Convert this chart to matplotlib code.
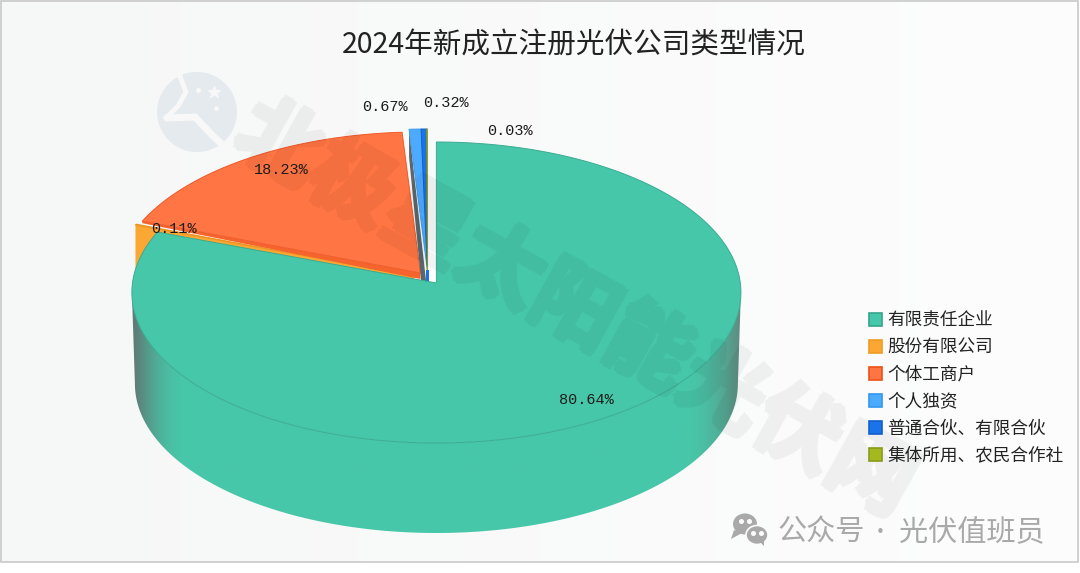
import numpy as np
import matplotlib
matplotlib.use("Agg")
import matplotlib.pyplot as plt
from matplotlib.patches import Polygon, Rectangle, Circle, Ellipse
from matplotlib.colors import to_rgb

plt.rcParams['font.family'] = ['Noto Sans CJK SC', 'DejaVu Sans']

title = "2024年新成立注册光伏公司类型情况"
categories = ["有限责任企业", "股份有限公司", "个体工商户", "个人独资", "普通合伙、有限合伙", "集体所用、农民合作社"]
values = [80.64, 0.11, 18.23, 0.67, 0.32, 0.03]
colors = ["#47c7a9", "#fba733", "#ff7543", "#4dabff", "#1a73e8", "#a4b81f"]
edges = ["#3bab91", "#ef9420", "#f0592a", "#3f9cf0", "#1360c8", "#8ea015"]
legend_edges = ["#34a58b", "#f09a22", "#ee5019", "#2f97f0", "#1160cc", "#8a9c18"]

# placement of each value label (pixels)
label_pos = [(586, 400), (174, 229), (281, 170), (385, 107), (446, 103), (510, 131)]
# how far each slice is pulled out from the shared centre (pixels)
slice_shift = [(0, 0), (-22, -7), (-16, -10), (-9, -13), (-9, -13), (-9, -13)]

CX, CY = 436.4, 283.0
AX, AY, K = 303.9, 149.9, 0.0631
DEPTH, SHRINK = 91.6, 0.99


def rim(deg, shift=(0, 0)):
    t = np.radians(deg)
    u, v = np.sin(t), -np.cos(t)
    d = 1 - K * v
    return CX + shift[0] + AX * u / d, CY + shift[1] + AY * v / d


def low(deg):
    x, y = rim(deg)
    return CX + (x - CX) * SHRINK, CY + (y - CY) * SHRINK + DEPTH


def heavy_faint(img, dpi):
    """Fatten the glyphs and make them faint as one layer."""
    pad = 4
    a = np.pad(img[..., 3], pad)
    out = a.copy()
    for dx, dy in [(-1, 0), (1, 0), (0, -1), (0, 1), (-2, 0), (2, 0), (0, -2), (0, 2),
                   (-1, -1), (1, 1), (-1, 1), (1, -1), (-3, 0), (3, 0), (0, 3), (0, -3)]:
        out = np.maximum(out, np.roll(np.roll(a, dx, 1), dy, 0))
    res = np.zeros(out.shape + (4,), dtype=img.dtype)
    res[..., 3] = out * 0.05
    return res, -pad, -pad


fig = plt.figure(figsize=(10.8, 5.73), dpi=100)
ax = fig.add_axes([0, 0, 1, 1])

# background
c0, c1 = np.array(to_rgb("#f6f7f7")), np.array(to_rgb("#fdfdfd"))
grad = np.linspace(0, 1, 256)[None, :, None] * (c1 - c0) + c0
ax.imshow(grad, extent=(0, 1080, 562, 0), aspect='auto', zorder=0)
ax.add_patch(Rectangle((1, 1), 1077, 561, fc='none', ec='#c9c9c9', lw=1.2, zorder=1))

# logo of the watermark
ax.add_patch(Circle((197, 112), 40, fc='#e5eaee', ec='none', zorder=1))
ax.plot([178, 186, 178, 166], [71, 92, 106, 118], color='#f8f8f8', lw=3.5, zorder=1.1)
ax.plot([168, 195, 212, 230], [118, 117, 135, 152], color='#f8f8f8', lw=5, zorder=1.1)
ax.plot([214], [92], marker='*', ms=9, color='#f8f8f8', zorder=1.1)
ax.plot([198, 216], [90, 108], ls='none', marker='o', ms=2.5, color='#f8f8f8', zorder=1.1)

# slices
cum = np.concatenate([[0], np.cumsum(values)]) / np.sum(values) * 360
starts, ends = cum[:-1], cum[1:]

# grey inner wall of the pulled-out blue slice
s = slice_shift[3]
a0 = (CX + s[0], CY + s[1])
x0, y0 = rim(starts[3], s)
ax.add_patch(Polygon([(x0, y0), (a0[0] - 1, a0[1] + 14), (a0[0] - 6, a0[1] + 14), (x0, y0 + 28)],
                     fc='#5c676c', ec='none', zorder=3))
# small piece of the dark blue wall
ax.add_patch(Rectangle((a0[0] - 1.5, a0[1]), 3, 14, fc=colors[4], ec='none', zorder=3.05))

z = {3: 3.2, 4: 3.3, 5: 3.4, 2: 2.95, 1: 2.8}
for i in [3, 4, 5, 2, 1]:
    s = slice_shift[i]
    th = np.linspace(starts[i], ends[i], max(3, int(ends[i] - starts[i]) * 2))
    xs, ys = rim(th, s)
    apex = (CX + s[0], CY + s[1])
    pts = [apex] + list(zip(xs, ys))
    ax.add_patch(Polygon(pts, fc=colors[i], ec=edges[i], lw=0.7, zorder=z[i], joinstyle='round'))

# side wall of the thin orange slice, seen left of the main slice
s = slice_shift[1]
xo, yo = rim(starts[1], s)
ao = (CX + s[0], CY + s[1])
ax.add_patch(Polygon([(xo, yo), ao, (ao[0], ao[1] + DEPTH), (xo, yo + DEPTH)],
                     fc=colors[1], ec='none', zorder=2.7))
# side wall of the red slice under its lower edge
s = slice_shift[2]
xr, yr = rim(starts[2], s)
ar = (CX + s[0], CY + s[1])
ax.add_patch(Polygon([(xr, yr), ar, (ar[0], ar[1] + 6), (xr, yr + 2)],
                     fc='#f4642c', ec='none', zorder=2.9))

# gap next to the main slice
ax.add_patch(Rectangle((429, 240), 7.4, 45, fc='white', ec='none', zorder=3.5))

# outer wall of the main slice with shaded ends, between its two silhouette points
t_ext = np.degrees(np.arccos(-K))
wall_t = np.linspace(t_ext, 360 - t_ext, 300)
tx, ty = rim(wall_t)
bx, by = low(wall_t)
wall = Polygon(list(zip(tx, ty)) + list(zip(bx[::-1], by[::-1])), fc='none', ec='none')
ax.add_patch(wall)
W = 620
gx = np.linspace(130, 745, W)
base = np.array(to_rgb(colors[0]))
dl, dr = np.array(to_rgb("#5e7d76")), np.array(to_rgb("#5f8d81"))
fl = np.clip((185 - gx) / 50, 0, 1)[:, None] ** 1.8
fr = np.clip((gx - 685) / 55, 0, 1)[:, None] ** 1.8
col = base * (1 - fl) + dl * fl
col = col * (1 - fr) + dr * fr
im = ax.imshow(col[None, :, :], extent=(130, 745, 540, 240), aspect='auto', zorder=3.8)
im.set_clip_path(wall)

# top face of the main slice
th = np.linspace(starts[0], ends[0], 500)
xs, ys = rim(th)
ax.add_patch(Polygon([(CX, CY)] + list(zip(xs, ys)), fc=colors[0], ec=edges[0], lw=0.7, zorder=4))

# value labels
for v, (lx, ly) in zip(values, label_pos):
    ax.text(lx, ly, f"{v:.2f}%", family=['Liberation Mono'], fontsize=11, color='#1c1c1c',
            ha='center', va='center', zorder=7)

# title
ax.text(574, 46, title, fontsize=20.6, color='#222222', ha='center', va='center', zorder=7)

# legend
for i, name in enumerate(categories):
    y = 319 + 27 * i
    ax.add_patch(Rectangle((868.5, y - 6.5), 13, 13, fc=colors[i], ec=legend_edges[i], lw=1.2, zorder=7))
    ax.text(887, y + 1.5, name, fontsize=12.7, color='#222222', ha='left', va='center', zorder=7)

# diagonal watermark
ax.text(574, 309, "北极星太阳能光伏网", fontsize=61, fontweight='bold', color='black',
        rotation=-29, rotation_mode='anchor', ha='center', va='center', zorder=6,
        agg_filter=heavy_faint)

# footer
ax.add_patch(Ellipse((745, 524), 24, 21, fc='#a9a9a9', ec='none', zorder=7))
ax.add_patch(Polygon([(734, 530), (731, 539), (742, 533)], fc='#a9a9a9', ec='none', zorder=7))
ax.add_patch(Ellipse((757, 535), 22, 19, fc='#a9a9a9', ec='#fbfbfb', lw=1.2, zorder=7.1))
ax.add_patch(Polygon([(760, 542), (764, 546), (764, 540)], fc='#a9a9a9', ec='none', zorder=7.1))
ax.plot([741, 749, 753, 761], [521, 521, 533, 533], ls='none', marker='o', ms=2.6, color='#fbfbfb', zorder=7.2)
ax.text(778, 533, "公众号", fontsize=21, color='#a9a9a9', ha='left', va='center', zorder=7)
ax.text(880, 533, "·", fontsize=15, color='#a9a9a9', ha='center', va='center', zorder=7)
ax.text(899, 533, "光伏值班员", fontsize=21, color='#a9a9a9', ha='left', va='center', zorder=7)

ax.set_xlim(0, 1080)
ax.set_ylim(573, 0)
ax.axis('off')
fig.patch.set_facecolor('white')
fig.savefig("out.png", dpi=100)
